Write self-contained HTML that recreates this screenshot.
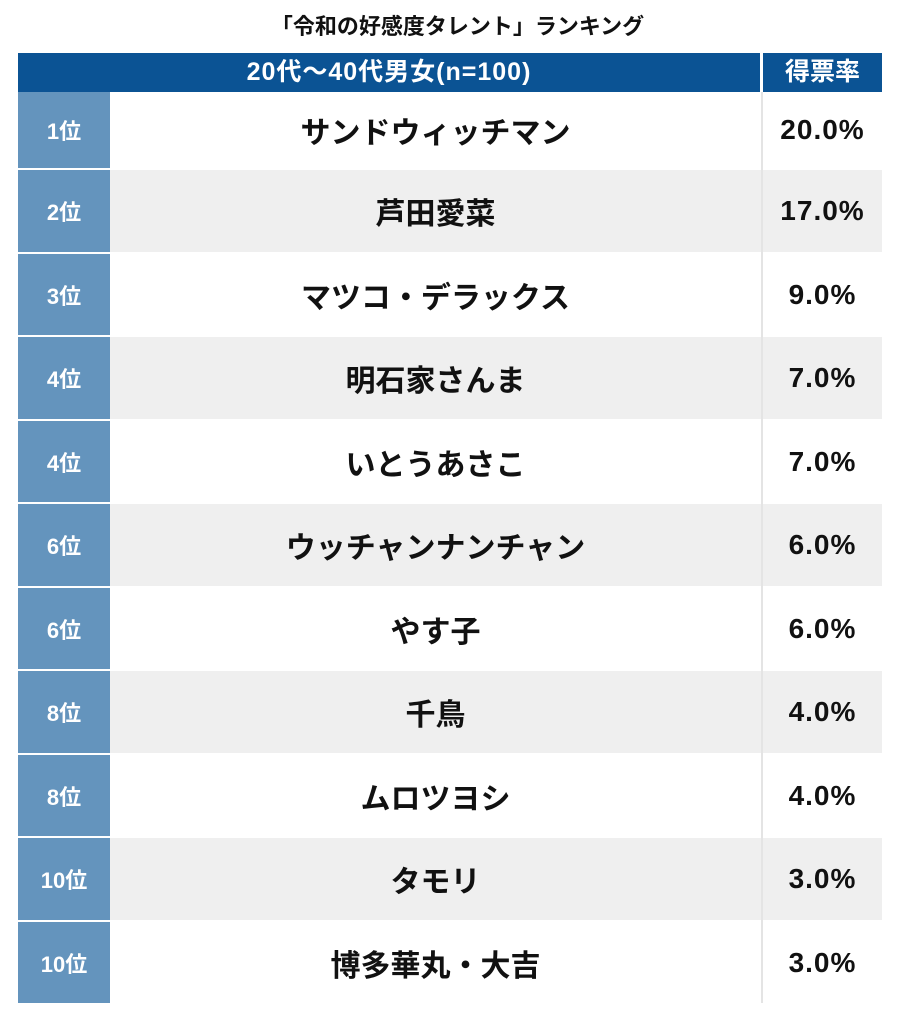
<!DOCTYPE html>
<html><head><meta charset="utf-8"><style>
body{margin:0;width:900px;height:1031px;background:#fff;font-family:"Liberation Sans","Noto Sans CJK JP",sans-serif;position:relative;overflow:hidden}
.t{position:absolute;top:9px;left:0;width:915px;text-align:center;font-size:22px;font-weight:bold;color:#111}
.h{position:absolute;top:53px;height:39px;background:#0b5394;color:#fff;font-weight:bold;font-size:25px;line-height:39px;text-align:center}
.r{position:absolute;left:18px;width:864px}
.rk{position:absolute;left:0;top:0;bottom:2px;width:92px;background:#6494bd;color:#fff;font-weight:bold;font-size:22px;display:flex;align-items:center;justify-content:center}
.nm{position:absolute;left:92px;width:651px;top:0;bottom:2px;display:flex;align-items:center;justify-content:center;font-weight:bold;font-size:30px;color:#111}
.v{position:absolute;left:745px;right:0;top:0;bottom:2px;display:flex;align-items:center;justify-content:center;font-weight:bold;font-size:28px;letter-spacing:1px;color:#111}
.g .nm,.g .v{background:#efefef}
.sep{position:absolute;left:761px;top:92px;width:2px;height:911px;background:#e4e4e4}
</style></head><body>
<div class="t">「令和の好感度タレント」ランキング</div>
<div class="h" style="left:18px;width:742px;letter-spacing:1px">20代〜40代男女(n=100)</div>
<div class="h" style="left:763px;width:119px">得票率</div>
<div class="r" style="top:92px;height:78px"><div class="rk">1位</div><div class="nm">サンドウィッチマン</div><div class="v">20.0%</div></div>
<div class="r g" style="top:170px;height:84px"><div class="rk">2位</div><div class="nm">芦田愛菜</div><div class="v">17.0%</div></div>
<div class="r" style="top:254px;height:83px"><div class="rk">3位</div><div class="nm">マツコ・デラックス</div><div class="v">9.0%</div></div>
<div class="r g" style="top:337px;height:84px"><div class="rk">4位</div><div class="nm">明石家さんま</div><div class="v">7.0%</div></div>
<div class="r" style="top:421px;height:83px"><div class="rk">4位</div><div class="nm">いとうあさこ</div><div class="v">7.0%</div></div>
<div class="r g" style="top:504px;height:84px"><div class="rk">6位</div><div class="nm">ウッチャンナンチャン</div><div class="v">6.0%</div></div>
<div class="r" style="top:588px;height:83px"><div class="rk">6位</div><div class="nm">やす子</div><div class="v">6.0%</div></div>
<div class="r g" style="top:671px;height:84px"><div class="rk">8位</div><div class="nm">千鳥</div><div class="v">4.0%</div></div>
<div class="r" style="top:755px;height:83px"><div class="rk">8位</div><div class="nm">ムロツヨシ</div><div class="v">4.0%</div></div>
<div class="r g" style="top:838px;height:84px"><div class="rk">10位</div><div class="nm">タモリ</div><div class="v">3.0%</div></div>
<div class="r" style="top:922px;height:83px"><div class="rk">10位</div><div class="nm">博多華丸・大吉</div><div class="v">3.0%</div></div>
<div class="sep"></div>
</body></html>
